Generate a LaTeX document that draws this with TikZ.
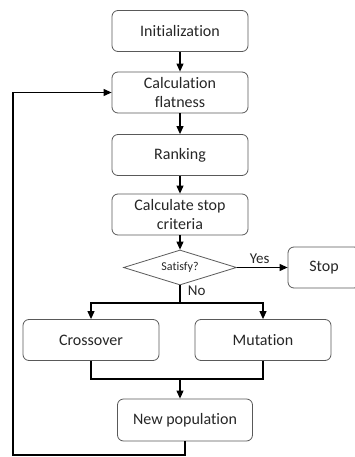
\documentclass[tikz,border=0pt]{standalone}
\usepackage{fontspec}
\setmainfont{Carlito}[Ligatures={NoCommon}]
\usetikzlibrary{shapes.geometric,arrows.meta}
\tikzset{
  procbox/.style={draw=black!65, line width=0.8pt, rounded corners=6pt, minimum width=136pt, minimum height=41pt, align=center, inner sep=2pt, text=black!85, font=\fontsize{16}{19}\selectfont},
  decision/.style={draw=black!65, line width=0.8pt, shape=diamond, aspect=3.2, minimum width=113pt, minimum height=35pt, inner sep=0pt, text=black!85, font=\fontsize{12}{14}\selectfont},
  flow/.style={line width=1.1pt, -{Triangle[length=8pt,width=7pt]}},
  link/.style={line width=1.1pt},
  answer/.style={text=black!85, font=\fontsize{15}{18}\selectfont}
}
\begin{document}
\begin{tikzpicture}[x=1pt, y=-1pt]
  \useasboundingbox (0,0) rectangle (354,457);
  \node[procbox] (init) at (180,31) {Initialization};
  \node[procbox] (calc) at (180,92.5) {Calculation\\flatness};
  \node[procbox] (rank) at (180,155) {Ranking};
  \node[procbox] (crit) at (180,214.5) {Calculate stop\\criteria};
  \node[decision] (sat) at (180,267.5) {Satisfy?};
  \node[procbox, minimum width=72pt] (stop) at (324,267.5) {Stop};
  \node[procbox] (cross) at (91,340) {Crossover};
  \node[procbox] (mut) at (263,340) {Mutation};
  \node[procbox, minimum width=135pt, minimum height=42pt] (newpop) at (185,420) {New population};

  \coordinate (split) at (180,303);
  \coordinate (merge) at (180,379);
  \coordinate (loop) at (13,455);

  % main chain
  \draw[flow] (init) -- (calc);
  \draw[flow] (calc) -- (rank);
  \draw[flow] (rank) -- (crit);
  \draw[flow] (crit) -- (sat);
  \draw[flow] (sat) -- node[answer, above, pos=0.45] {Yes} (stop);
  \draw[link] (sat.south) -- node[answer, right, pos=0.3, xshift=4pt] {No} (split);
  \draw[flow] (split) -| (cross.north);
  \draw[flow] (split) -| (mut.north);
  \draw[link] (cross.south) |- (merge);
  \draw[link] (mut.south) |- (merge);
  \draw[flow] (merge) -- (merge |- newpop.north);
  % back to fitness
  \draw[flow] (newpop.south) |- (loop) |- (calc.west);
\end{tikzpicture}
\end{document}
